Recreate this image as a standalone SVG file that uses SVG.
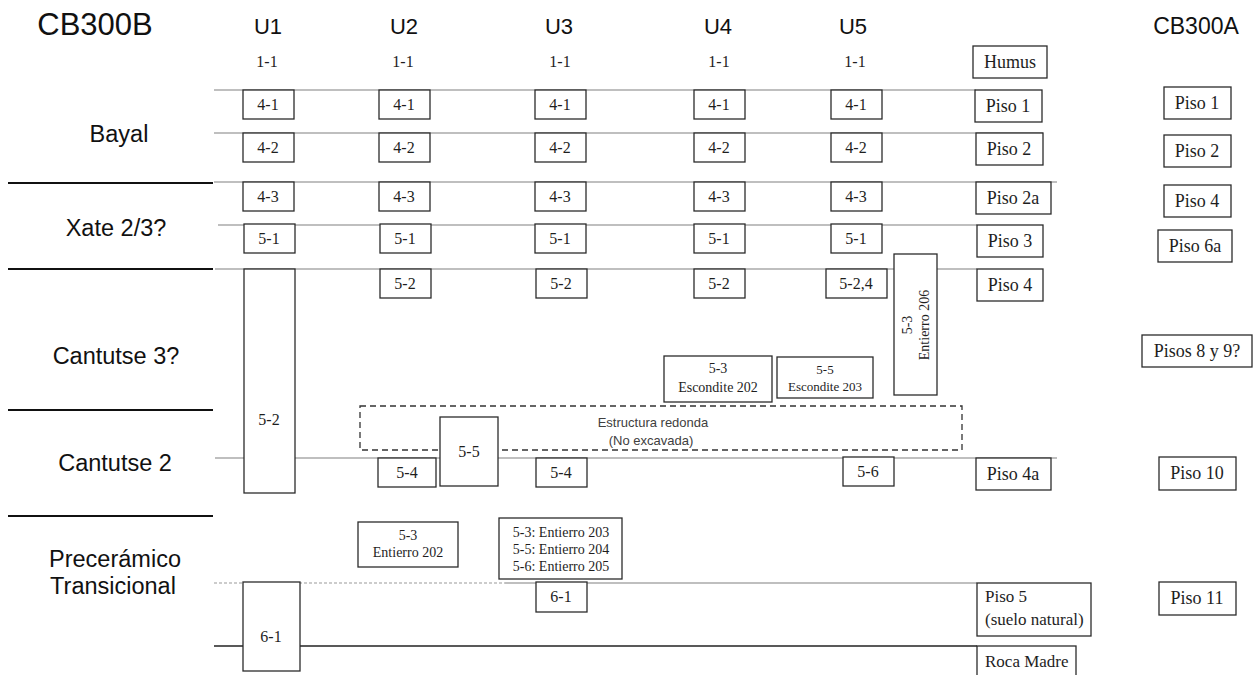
<svg xmlns="http://www.w3.org/2000/svg" width="1259" height="675" viewBox="0 0 1259 675">
<style>
.b{fill:#fff;stroke:#2b2b2b;stroke-width:1.3}
.d{fill:none;stroke:#333;stroke-width:1.3;stroke-dasharray:6 4}
.t{font-family:"Liberation Serif",serif;font-size:16px;fill:#1e1e1e;text-anchor:middle}
.s{font-family:"Liberation Serif",serif;font-size:14px;fill:#1e1e1e;text-anchor:middle}
.p{font-family:"Liberation Serif",serif;font-size:18px;fill:#1e1e1e;text-anchor:middle}
.pl{font-family:"Liberation Serif",serif;font-size:17px;fill:#1e1e1e}
.h{font-family:"Liberation Sans",sans-serif;font-size:22px;fill:#111;text-anchor:middle}
.l{font-family:"Liberation Sans",sans-serif;font-size:23.5px;fill:#111;text-anchor:middle}
.e{font-family:"Liberation Sans",sans-serif;font-size:13px;fill:#404040;text-anchor:middle}
.g{stroke:#808080;stroke-width:1.2;fill:none}
.k{stroke:#111;stroke-width:2;fill:none}
</style>
<rect width="1259" height="675" fill="#fff"/>

<g id="connectors">
<line class="g" x1="214" y1="90" x2="976" y2="90"/>
<line class="g" x1="214" y1="133" x2="1043" y2="133"/>
<line class="g" x1="214" y1="182" x2="1057" y2="182"/>
<line class="g" x1="218" y1="225" x2="977" y2="225"/>
<line class="g" x1="215" y1="269" x2="977" y2="269"/>
<line class="g" x1="215" y1="458" x2="1057" y2="458"/>
<line stroke="#999" stroke-width="1" stroke-dasharray="3 2" x1="214" y1="583" x2="505" y2="583"/>
<line class="g" x1="505" y1="583" x2="977" y2="583"/>
<line stroke="#222" stroke-width="1.3" x1="214" y1="646" x2="977" y2="646"/>
<line class="k" x1="8" y1="183" x2="213" y2="183"/>
<line class="k" x1="8" y1="269" x2="213" y2="269"/>
<line class="k" x1="8" y1="410" x2="213" y2="410"/>
<line class="k" x1="8" y1="516" x2="213" y2="516"/>
</g>

<g id="headers">
<text class="h" x="95" y="35" style="font-size:31px">CB300B</text>
<text class="h" x="268" y="34">U1</text>
<text class="h" x="404" y="34">U2</text>
<text class="h" x="559" y="34">U3</text>
<text class="h" x="718" y="34">U4</text>
<text class="h" x="853" y="34">U5</text>
<text class="h" x="1196" y="34" style="font-size:23px">CB300A</text>
<text class="t" x="267" y="67">1-1</text>
<text class="t" x="403" y="67">1-1</text>
<text class="t" x="560" y="67">1-1</text>
<text class="t" x="719" y="67">1-1</text>
<text class="t" x="855" y="67">1-1</text>
</g>

<g id="periods">
<text class="l" x="119" y="142">Bayal</text>
<text class="l" x="116" y="236">Xate 2/3?</text>
<text class="l" x="116" y="364">Cantutse 3?</text>
<text class="l" x="115" y="471">Cantutse 2</text>
<text class="l" x="115" y="567">Precerámico</text>
<text class="l" x="113" y="594">Transicional</text>
</g>

<g id="u1">
<rect class="b" x="243" y="90" width="51" height="29"/><text class="t" x="268" y="110">4-1</text>
<rect class="b" x="243" y="133" width="51" height="29"/><text class="t" x="268" y="153">4-2</text>
<rect class="b" x="243" y="182" width="51" height="29"/><text class="t" x="268" y="202">4-3</text>
<rect class="b" x="244" y="224" width="51" height="29"/><text class="t" x="269" y="244">5-1</text>
<rect class="b" x="244" y="269" width="51" height="224"/><text class="t" x="269" y="425">5-2</text>
<rect class="b" x="243" y="582" width="57" height="89"/><text class="t" x="271" y="642">6-1</text>
</g>

<g id="u2">
<rect class="b" x="379" y="90" width="51" height="29"/><text class="t" x="404" y="110">4-1</text>
<rect class="b" x="379" y="133" width="51" height="29"/><text class="t" x="404" y="153">4-2</text>
<rect class="b" x="379" y="182" width="51" height="29"/><text class="t" x="404" y="202">4-3</text>
<rect class="b" x="380" y="224" width="51" height="29"/><text class="t" x="405" y="244">5-1</text>
<rect class="b" x="380" y="269" width="51" height="29"/><text class="t" x="405" y="289">5-2</text>
</g>

<g id="u3">
<rect class="b" x="535" y="90" width="51" height="29"/><text class="t" x="560" y="110">4-1</text>
<rect class="b" x="535" y="133" width="51" height="29"/><text class="t" x="560" y="153">4-2</text>
<rect class="b" x="535" y="182" width="51" height="29"/><text class="t" x="560" y="202">4-3</text>
<rect class="b" x="535" y="224" width="51" height="29"/><text class="t" x="560" y="244">5-1</text>
<rect class="b" x="536" y="269" width="51" height="29"/><text class="t" x="561" y="289">5-2</text>
<rect class="b" x="536" y="458" width="51" height="29"/><text class="t" x="561" y="478">5-4</text>
<rect class="b" x="536" y="582" width="51" height="30"/><text class="t" x="561" y="602">6-1</text>
</g>

<g id="u4">
<rect class="b" x="694" y="90" width="51" height="29"/><text class="t" x="719" y="110">4-1</text>
<rect class="b" x="694" y="133" width="51" height="29"/><text class="t" x="719" y="153">4-2</text>
<rect class="b" x="694" y="182" width="51" height="29"/><text class="t" x="719" y="202">4-3</text>
<rect class="b" x="694" y="224" width="51" height="29"/><text class="t" x="719" y="244">5-1</text>
<rect class="b" x="694" y="269" width="51" height="29"/><text class="t" x="719" y="289">5-2</text>
</g>

<g id="u5">
<rect class="b" x="831" y="90" width="51" height="29"/><text class="t" x="856" y="110">4-1</text>
<rect class="b" x="831" y="133" width="51" height="29"/><text class="t" x="856" y="153">4-2</text>
<rect class="b" x="831" y="182" width="51" height="29"/><text class="t" x="856" y="202">4-3</text>
<rect class="b" x="831" y="224" width="51" height="29"/><text class="t" x="856" y="244">5-1</text>
<rect class="b" x="826" y="269" width="61" height="29"/><text class="t" x="856" y="289">5-2,4</text>
<rect class="b" x="843" y="457" width="51" height="29"/><text class="t" x="868" y="477">5-6</text>
</g>

<g id="entierro206">
<rect class="b" x="894" y="254" width="43" height="141"/>
<text class="s" transform="translate(912 325) rotate(-90)" x="0" y="0">5-3</text>
<text class="s" transform="translate(929 325) rotate(-90)" x="0" y="0">Entierro 206</text>
</g>

<g id="escondite202">
<rect class="b" x="664" y="356" width="108" height="46"/>
<text class="s" x="718" y="373">5-3</text>
<text class="s" x="718" y="392">Escondite 202</text>
</g>

<g id="escondite203">
<rect class="b" x="777" y="357" width="96" height="41"/>
<text class="s" x="825" y="374" style="font-size:13px">5-5</text>
<text class="s" x="825" y="391" style="font-size:13px">Escondite 203</text>
</g>

<g id="estructura">
<rect class="d" x="360" y="406" width="602" height="44"/>
<text class="e" x="653" y="427">Estructura redonda</text>
<text class="e" x="651" y="445">(No excavada)</text>
</g>

<g id="u2-lower">
<rect class="b" x="440" y="417" width="58" height="69"/><text class="t" x="469" y="457">5-5</text>
<rect class="b" x="378" y="458" width="58" height="29"/><text class="t" x="407" y="478">5-4</text>
</g>

<g id="entierro202">
<rect class="b" x="358" y="522" width="100" height="45"/>
<text class="s" x="408" y="540">5-3</text>
<text class="s" x="408" y="557">Entierro 202</text>
</g>

<g id="entierros203-205">
<rect class="b" x="499" y="518" width="123" height="61"/>
<text class="s" x="561" y="537">5-3: Entierro 203</text>
<text class="s" x="561" y="554">5-5: Entierro 204</text>
<text class="s" x="561" y="571">5-6: Entierro 205</text>
</g>

<g id="cb300b-pisos">
<rect class="b" x="973" y="46" width="74" height="32"/><text class="p" x="1010" y="68">Humus</text>
<rect class="b" x="975" y="90" width="67" height="32"/><text class="p" x="1008" y="112">Piso 1</text>
<rect class="b" x="976" y="133" width="67" height="32"/><text class="p" x="1009" y="155">Piso 2</text>
<rect class="b" x="976" y="182" width="75" height="32"/><text class="p" x="1013" y="204">Piso 2a</text>
<rect class="b" x="977" y="225" width="66" height="32"/><text class="p" x="1010" y="247">Piso 3</text>
<rect class="b" x="977" y="269" width="66" height="32"/><text class="p" x="1010" y="291">Piso 4</text>
<rect class="b" x="976" y="458" width="75" height="32"/><text class="p" x="1013" y="480">Piso 4a</text>
<rect class="b" x="977" y="583" width="114" height="53"/>
<text class="pl" x="985" y="602">Piso 5</text>
<text class="pl" x="985" y="625">(suelo natural)</text>
<rect class="b" x="977" y="646" width="99" height="34"/><text class="pl" x="985" y="667">Roca Madre</text>
</g>

<g id="cb300a-pisos">
<rect class="b" x="1164" y="87" width="67" height="32"/><text class="p" x="1197" y="109">Piso 1</text>
<rect class="b" x="1164" y="135" width="67" height="32"/><text class="p" x="1197" y="157">Piso 2</text>
<rect class="b" x="1164" y="185" width="67" height="32"/><text class="p" x="1197" y="207">Piso 4</text>
<rect class="b" x="1158" y="230" width="74" height="32"/><text class="p" x="1195" y="252">Piso 6a</text>
<rect class="b" x="1142" y="335" width="110" height="32"/><text class="p" x="1197" y="357">Pisos 8 y 9?</text>
<rect class="b" x="1159" y="457" width="77" height="33"/><text class="p" x="1197" y="479">Piso 10</text>
<rect class="b" x="1159" y="582" width="77" height="33"/><text class="p" x="1197" y="604">Piso 11</text>
</g>
</svg>
